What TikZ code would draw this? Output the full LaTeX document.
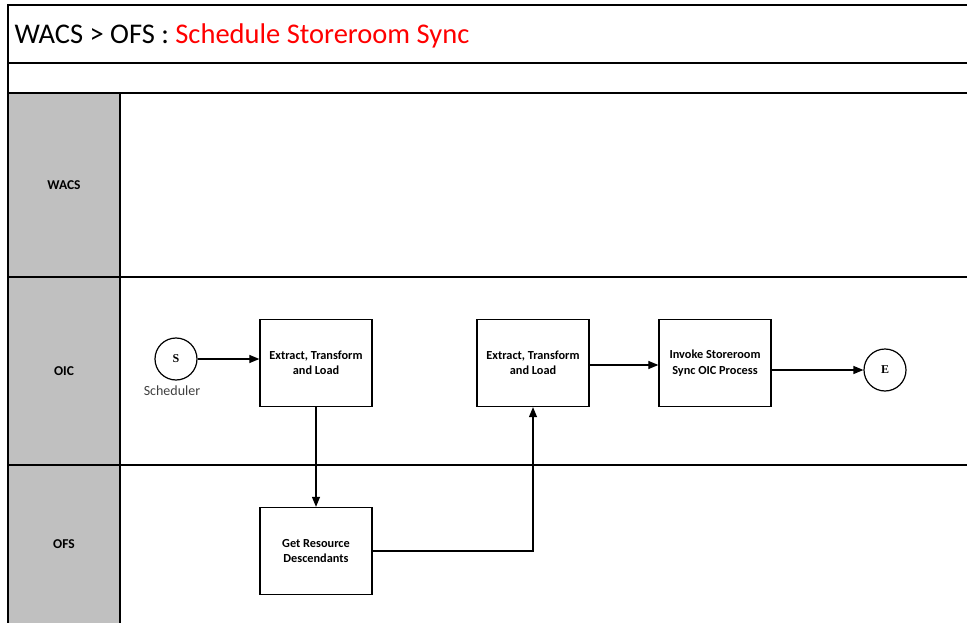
\documentclass[tikz,border=0pt]{standalone}
\usepackage{fontspec}
\setmainfont{Carlito}
\newfontfamily\evfont{Liberation Serif}
\usetikzlibrary{arrows.meta}
\definecolor{lanegray}{RGB}{192,192,192}
\definecolor{titlered}{RGB}{255,0,0}
\begin{document}
\begin{tikzpicture}[x=1pt,y=-1pt,
    frame/.style={line width=1.4pt},
    lanetext/.style={font=\fontsize{13.5}{16}\selectfont\bfseries},
    task/.style={draw, line width=1.3pt, minimum width=112pt, minimum height=87pt,
      align=center, font=\fontsize{12.3}{15.5}\selectfont\bfseries},
    event/.style={draw, circle, line width=1.2pt, minimum size=42pt, inner sep=0pt,
      font=\fontsize{12}{14}\selectfont\evfont\bfseries},
    flow/.style={-{Triangle[length=10pt,width=8pt]}, line width=1.2pt}]
      \useasboundingbox (0,0) rectangle (967,623);

      % pool and lanes
      \fill[lanegray] (8,93) rectangle (120,623);
      \draw[frame] (967,5) -- (8,5) -- (8,623);
      \draw[frame] (8,63) -- (967,63);
      \draw[frame] (8,93) -- (967,93);
      \draw[frame] (8,277) -- (967,277);
      \draw[frame] (8,465) -- (967,465);
      \draw[frame] (120,93) -- (120,623);

      \node[anchor=base west, font=\fontsize{28.5}{32}\selectfont] (title) at (11,44)
        {WACS > OFS : \textcolor{titlered}{Schedule Storeroom Sync}};
      \node[lanetext] (wacs) at (64,185) {WACS};
      \node[lanetext] (oic) at (64,371) {OIC};
      \node[lanetext] (ofs) at (64,544) {OFS};

      % tasks
      \node[event] (start) at (176,359) {S};
      \node[font=\fontsize{14}{16}\selectfont, text=black!75] (sched) at (172,391) {Scheduler};
      \node[task] (etl1) at (316,363) {Extract, Transform\\and Load};
      \node[task] (getres) at (316,551) {Get Resource\\Descendants};
      \node[task] (etl2) at (533,363) {Extract, Transform\\and Load};
      \node[task] (invoke) at (715,363) {Invoke Storeroom\\Sync OIC Process};
      \node[event] (end) at (885,370) {E};

      \draw[flow] (start) -- (start -| etl1.west);
      \draw[flow] (etl1) -- (getres);
      \draw[flow] (getres) -| (etl2);
      \draw[flow] ([yshift=-2pt]etl2.east) -- ([yshift=-2pt]etl2.east -| invoke.west);
      \draw[flow] (invoke.east |- end) -- (end);
    \end{tikzpicture}
\end{document}
